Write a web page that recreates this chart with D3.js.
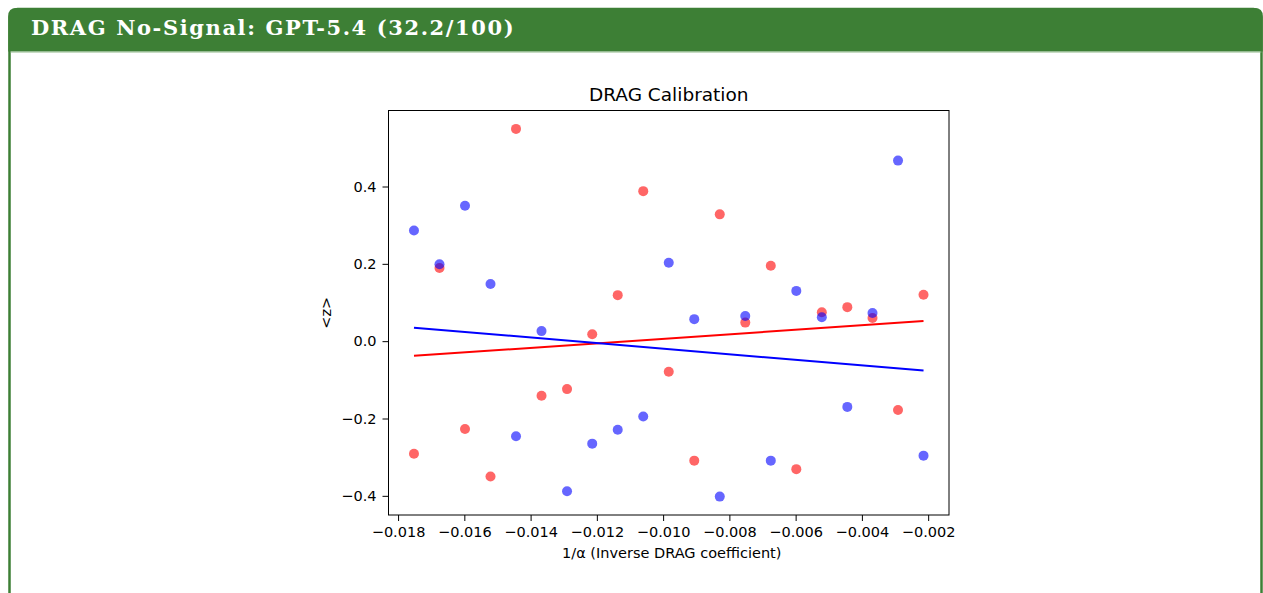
<!DOCTYPE html>
<html>
<head>
<meta charset="utf-8">
<script src="https://cdn.jsdelivr.net/npm/d3@7"></script>
<style>
  body { margin: 0; background: #ffffff; }
  svg { display: block; }
</style>
</head>
<body>
<svg id="chart" width="1263" height="593"></svg>
<script>
// data
let invAlpha = [-0.01752, -0.01675, -0.01598, -0.01521, -0.01444, -0.01367, -0.01290,
  -0.01214, -0.01137, -0.01060, -0.00983, -0.00906, -0.00829, -0.00752, -0.00675,
  -0.00598, -0.00521, -0.00444, -0.00368, -0.00291, -0.00214];
let zRed = [-0.291, 0.189, -0.227, -0.350, 0.549, -0.141, -0.124, 0.018, 0.119, 0.388,
  -0.079, -0.309, 0.328, 0.048, 0.195, -0.331, 0.075, 0.088, 0.060, -0.178, 0.120];
let zBlue = [0.286, 0.199, 0.350, 0.148, -0.246, 0.026, -0.388, -0.265, -0.229, -0.195,
  0.203, 0.057, -0.402, 0.065, -0.309, 0.130, 0.062, -0.170, 0.073, 0.467, -0.296];
let xTicks = [-0.018, -0.016, -0.014, -0.012, -0.010, -0.008, -0.006, -0.004, -0.002];
let yTicks = [-0.4, -0.2, 0.0, 0.2, 0.4];

let green = "#3d7f35";
let svg = d3.select("#chart");

// outer box
svg.append("rect")
  .attr("x", 9.5).attr("y", 9)
  .attr("width", 1252).attr("height", 620)
  .attr("rx", 8)
  .attr("fill", "#ffffff")
  .attr("stroke", green)
  .attr("stroke-width", 2.5);

// header band with rounded top corners
svg.append("path")
  .attr("d", "M8.25,51.5 L8.25,16 Q8.25,8 16.25,8 L1254.75,8 Q1262.75,8 1262.75,16 L1262.75,51.5 Z")
  .attr("fill", green);
svg.append("line")
  .attr("x1", 10.5).attr("x2", 1261.5)
  .attr("y1", 52).attr("y2", 52)
  .attr("stroke", "#8fb98a").attr("stroke-width", 1);

svg.append("text")
  .attr("x", 31).attr("y", 35)
  .text("DRAG No-Signal: GPT-5.4 (32.2/100)")
  .style("font-family", "'DejaVu Serif'")
  .style("font-weight", "bold")
  .style("font-size", "21px")
  .style("letter-spacing", "1.6px")
  .style("fill", "#ffffff");

// plot area
let plotL = 388.5, plotR = 949, plotT = 110.5, plotB = 515;

function padded(vals) {
  let lo = d3.min(vals), hi = d3.max(vals);
  let m = (hi - lo) * 0.05;
  return [lo - m, hi + m];
}

let x = d3.scaleLinear().domain(padded(invAlpha)).range([plotL, plotR]);
let y = d3.scaleLinear().domain(padded(zRed.concat(zBlue))).range([plotB, plotT]);

let fmt = d => d3.format(".3f")(d).replace("-", "\u2212");
let fmtY = d => d3.format(".1f")(d).replace("-", "\u2212");

let xAxis = svg.append("g")
  .attr("transform", "translate(0," + plotB + ")")
  .call(d3.axisBottom(x).tickValues(xTicks).tickFormat(fmt).tickSize(6).tickPadding(6).tickSizeOuter(0));
let yAxis = svg.append("g")
  .attr("transform", "translate(" + plotL + ",0)")
  .call(d3.axisLeft(y).tickValues(yTicks).tickFormat(fmtY).tickSize(6).tickPadding(6).tickSizeOuter(0));

[xAxis, yAxis].forEach(function(g) {
  g.select(".domain").remove();
  g.selectAll("line").attr("stroke", "#000").attr("stroke-width", 1);
  g.selectAll("text")
    .style("font-family", "'DejaVu Sans'")
    .style("font-size", "14.5px")
    .attr("fill", "#000");
});

// frame
svg.append("rect")
  .attr("x", plotL).attr("y", plotT)
  .attr("width", plotR - plotL).attr("height", plotB - plotT)
  .attr("fill", "none")
  .attr("stroke", "#000")
  .attr("stroke-width", 1);

// scatter points
function drawDots(vals, color) {
  svg.append("g")
    .selectAll("circle")
    .data(vals)
    .enter()
    .append("circle")
    .attr("cx", (d, i) => x(invAlpha[i]))
    .attr("cy", d => y(d))
    .attr("r", 5)
    .attr("fill", color)
    .attr("fill-opacity", 0.6);
}
drawDots(zRed, "red");
drawDots(zBlue, "blue");

// least squares fit lines
function fitLine(vals, color) {
  let mx = d3.mean(invAlpha), my = d3.mean(vals);
  let num = d3.sum(invAlpha, (v, i) => (v - mx) * (vals[i] - my));
  let den = d3.sum(invAlpha, v => (v - mx) * (v - mx));
  let slope = num / den, icpt = my - slope * mx;
  let ends = d3.extent(invAlpha);
  svg.append("path")
    .datum(ends)
    .attr("d", d3.line().x(d => x(d)).y(d => y(slope * d + icpt)))
    .attr("stroke", color)
    .attr("stroke-width", 2)
    .attr("fill", "none");
}
fitLine(zRed, "red");
fitLine(zBlue, "blue");

// titles
svg.append("text")
  .attr("x", (plotL + plotR) / 2).attr("y", 101)
  .attr("text-anchor", "middle")
  .text("DRAG Calibration")
  .style("font-family", "'DejaVu Sans'")
  .style("font-size", "18.5px");

svg.append("text")
  .attr("x", (plotL + plotR) / 2 + 3).attr("y", 558)
  .attr("text-anchor", "middle")
  .text("1/\u03b1 (Inverse DRAG coefficient)")
  .style("font-family", "'DejaVu Sans'")
  .style("font-size", "14.5px");

svg.append("text")
  .attr("transform", "translate(331," + ((plotT + plotB) / 2) + ") rotate(-90)")
  .attr("text-anchor", "middle")
  .text("<z>")
  .style("font-family", "'DejaVu Sans'")
  .style("font-size", "14.5px");
</script>
</body>
</html>
